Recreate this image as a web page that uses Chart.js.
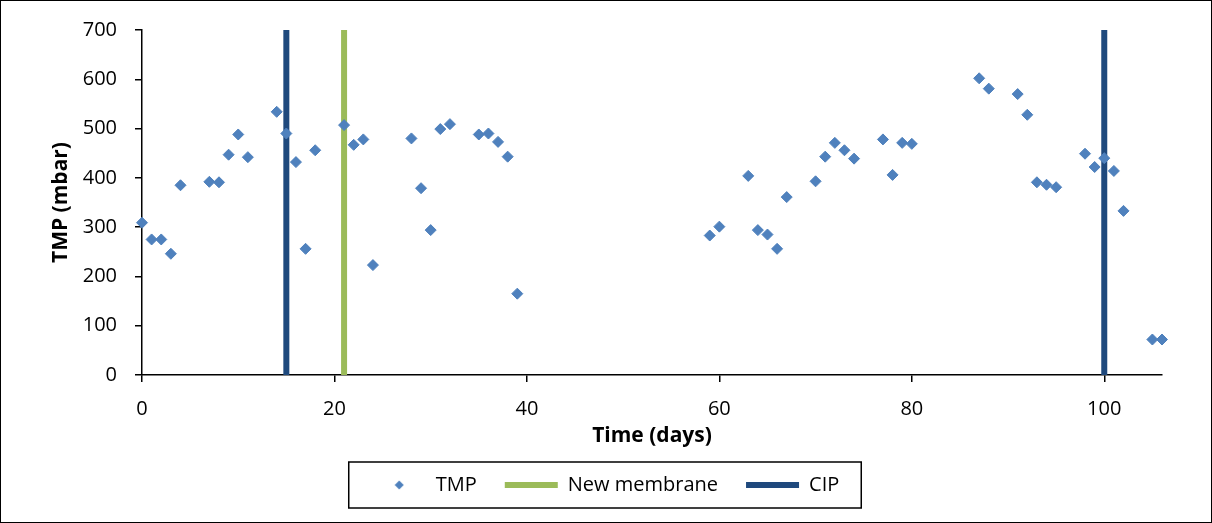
<!DOCTYPE html>
<html>
<head>
<meta charset="utf-8">
<script src="https://cdn.jsdelivr.net/npm/chart.js@4/dist/chart.umd.min.js"></script>
<style>
  body { margin: 0; background: #fff; }
  canvas { display: block; }
</style>
</head>
<body>
<canvas id="tmpChart" width="1212" height="523"></canvas>
<script>
// TMP readings (day, mbar)
const days = [0, 1, 2, 3, 4, 7, 8, 9, 10, 11, 14, 15, 16, 17, 18, 21, 22, 23, 24,
  28, 29, 30, 31, 32, 35, 36, 37, 38, 39,
  59, 60, 63, 64, 65, 66, 67, 70, 71, 72, 73, 74, 77, 78, 79, 80,
  87, 88, 91, 92, 93, 94, 95, 98, 99, 100, 101, 102, 105, 106];
const tmp = [309, 275, 275, 246, 385, 392, 391, 447, 488, 442, 534, 490, 432, 256, 456, 507, 467, 478, 223,
  480, 379, 294, 499, 509, 488, 490, 473, 443, 165,
  283, 301, 404, 294, 285, 256, 361, 393, 443, 471, 456, 439, 478, 406, 471, 469,
  602, 581, 570, 528, 391, 386, 381, 449, 422, 440, 414, 333, 72, 72];

// events drawn as full-height vertical lines
const newMembraneDays = [21];
const cipDays = [15, 100];
const yRange = [0, 700];

const FONT = "'Open Sans', 'Liberation Sans', sans-serif";
const MARKER = "#4F81BD";

function vline(day) {
  return yRange.map(v => ({ x: day, y: v }));
}

// small diamond for the legend, so it is not stretched to the line width
function legendDiamond() {
  const c = document.createElement("canvas");
  c.width = 10;
  c.height = 10;
  const g = c.getContext("2d");
  g.fillStyle = MARKER;
  g.beginPath();
  g.moveTo(5, 0.5);
  g.lineTo(9.5, 5);
  g.lineTo(5, 9.5);
  g.lineTo(0.5, 5);
  g.closePath();
  g.fill();
  return c;
}
const diamondIcon = legendDiamond();

const datasets = [
  {
    label: "TMP",
    data: days.map((d, i) => ({ x: d, y: tmp[i] })),
    pointStyle: "rectRot",
    pointRadius: 5.5,
    pointHoverRadius: 5.5,
    backgroundColor: MARKER,
    borderColor: MARKER,
    borderWidth: 1,
    showLine: false,
    clip: false,
    order: 0
  },
  ...newMembraneDays.map(d => ({
    label: "New membrane",
    data: vline(d),
    showLine: true,
    borderColor: "#9BBB59",
    backgroundColor: "#9BBB59",
    borderWidth: 6,
    borderCapStyle: "round",
    pointRadius: 0,
    pointStyle: "line",
    order: 1
  })),
  ...cipDays.map(d => ({
    label: "CIP",
    data: vline(d),
    showLine: true,
    borderColor: "#1F497D",
    backgroundColor: "#1F497D",
    borderWidth: 6,
    borderCapStyle: "round",
    pointRadius: 0,
    pointStyle: "line",
    order: 2
  }))
];

// frame round the whole picture and a box round the legend
const framePlugin = {
  id: "frame",
  beforeDraw(chart) {
    const ctx = chart.ctx;
    ctx.save();
    ctx.fillStyle = "#fff";
    ctx.fillRect(0, 0, chart.width, chart.height);
    ctx.restore();
  },
  afterDraw(chart) {
    const ctx = chart.ctx;
    ctx.save();
    ctx.strokeStyle = "#000";
    ctx.lineWidth = 1;
    ctx.strokeRect(0.5, 0.5, chart.width - 1, chart.height - 1);

    const boxes = chart.legend.legendHitBoxes;
    if (boxes && boxes.length) {
      const left = Math.min(...boxes.map(b => b.left)) - 24;
      const right = Math.max(...boxes.map(b => b.left + b.width)) + 22;
      const mid = boxes[0].top + boxes[0].height / 2;
      ctx.lineWidth = 1.5;
      ctx.strokeRect(left, mid - 23, right - left, 46);
    }
    ctx.restore();
  }
};

new Chart(document.getElementById("tmpChart"), {
  type: "scatter",
  data: { datasets },
  options: {
    responsive: false,
    animation: false,
    layout: { padding: { top: 30, left: 0, right: 0, bottom: 18 } },
    plugins: {
      tooltip: { enabled: false },
      legend: {
        position: "bottom",
        labels: {
          usePointStyle: true,
          pointStyleWidth: 53,
          boxHeight: 6,
          padding: 28,
          color: "#000",
          font: { family: FONT, size: 20 },
          generateLabels(chart) {
            const items = Chart.defaults.plugins.legend.labels.generateLabels(chart);
            items.forEach(it => {
              if (it.text === "TMP") it.pointStyle = diamondIcon;
            });
            return items;
          },
          // only one CIP entry in the legend
          filter: (item, data) => data.datasets.findIndex(ds => ds.label === item.text) === item.datasetIndex
        }
      }
    },
    scales: {
      x: {
        type: "linear",
        min: 0,
        max: 106,
        ticks: {
          stepSize: 20,
          includeBounds: false,
          color: "#000",
          padding: 15,
          font: { family: FONT, size: 20 }
        },
        grid: { drawOnChartArea: false, drawTicks: true, tickLength: 7, color: "#000", lineWidth: 1.5 },
        border: { color: "#000", width: 1.5 },
        title: {
          display: true,
          text: "Time (days)",
          color: "#000",
          font: { family: FONT, size: 21, weight: "bold", lineHeight: 1 },
          padding: { top: 0, bottom: 0 }
        },
        afterFit(scale) { scale.height = 72; }
      },
      y: {
        min: yRange[0],
        max: yRange[1],
        ticks: {
          stepSize: 100,
          color: "#000",
          padding: 18,
          font: { family: FONT, size: 20 }
        },
        grid: { drawOnChartArea: false, drawTicks: true, tickLength: 7, color: "#000", lineWidth: 1.5 },
        border: { color: "#000", width: 1.5 },
        title: {
          display: true,
          text: "TMP (mbar)",
          color: "#000",
          font: { family: FONT, size: 21, weight: "bold", lineHeight: 1 },
          padding: { top: 51, bottom: 0 }
        },
        afterFit(scale) { scale.width = 142; }
      },
      // empty right-hand strip so the plot stops where the reference does
      yPad: {
        position: "right",
        display: true,
        ticks: { display: false },
        grid: { display: false },
        border: { display: false },
        afterFit(scale) { scale.width = 50; }
      }
    }
  },
  plugins: [framePlugin]
});
</script>
</body>
</html>
